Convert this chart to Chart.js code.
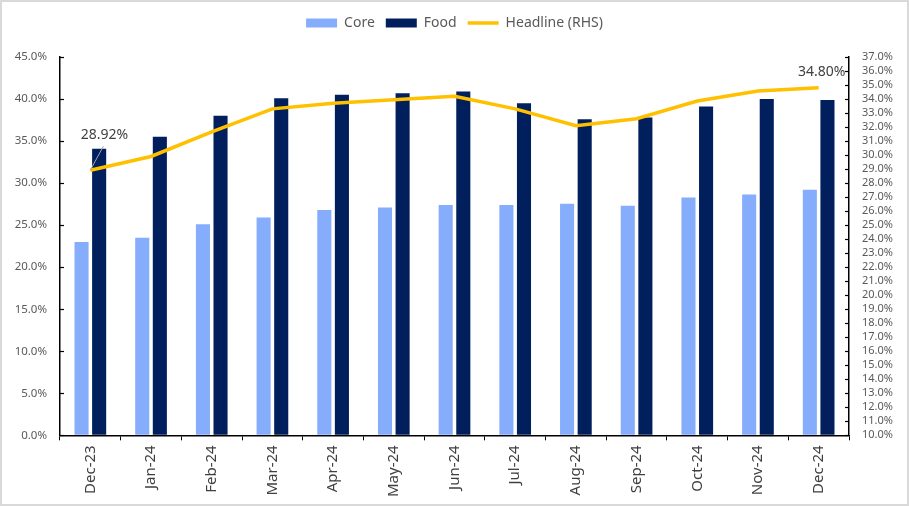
<!DOCTYPE html>
<html>
<head>
<meta charset="utf-8">
<script src="https://cdn.jsdelivr.net/npm/chart.js@4.4.1/dist/chart.umd.min.js"></script>
<style>
  html, body { margin: 0; padding: 0; background: #fff; }
  #wrap { width: 909px; height: 506px; box-sizing: border-box; border: 2px solid #d9d9d9; }
</style>
</head>
<body>
<div id="wrap"><canvas id="inflChart"></canvas></div>
<script>
// data
const months = ['Dec-23', 'Jan-24', 'Feb-24', 'Mar-24', 'Apr-24', 'May-24', 'Jun-24',
                'Jul-24', 'Aug-24', 'Sep-24', 'Oct-24', 'Nov-24', 'Dec-24'];
const coreVals = [23.0, 23.5, 25.1, 25.9, 26.8, 27.1, 27.4, 27.4, 27.55, 27.3, 28.3, 28.65, 29.2];
const foodVals = [34.1, 35.5, 38.0, 40.1, 40.5, 40.7, 40.9, 39.5, 37.6, 37.8, 39.1, 40.0, 39.9];
const headlineVals = [28.92, 29.9, 31.65, 33.3, 33.7, 33.95, 34.2, 33.3, 32.1, 32.6, 33.86, 34.57, 34.80];

const FONT = 'Noto Sans';
const GRAY = '#595959';

// extra room under the legend
const legendGap = {
    id: 'legendGap',
    beforeInit(chart) {
        const fit = chart.legend.fit;
        chart.legend.fit = function () {
            fit.bind(chart.legend)();
            this.height += 17;
        };
    }
};

// y-axis tick marks pointing into the plot (Excel style)
const innerTicks = {
    id: 'innerTicks',
    afterDraw(chart) {
        const ctx = chart.ctx;
        const area = chart.chartArea;
        ctx.save();
        ctx.strokeStyle = '#000';
        ctx.lineWidth = 1.2;
        chart.scales.y.ticks.forEach(t => {
            const py = Math.round(chart.scales.y.getPixelForValue(t.value)) + 0.5;
            ctx.beginPath();
            ctx.moveTo(area.left, py);
            ctx.lineTo(area.left + 4, py);
            ctx.stroke();
        });
        chart.scales.y1.ticks.forEach(t => {
            const py = Math.round(chart.scales.y1.getPixelForValue(t.value)) + 0.5;
            ctx.beginPath();
            ctx.moveTo(area.right - 4, py);
            ctx.lineTo(area.right, py);
            ctx.stroke();
        });
        ctx.restore();
    }
};

// end-point labels for the headline line
const endLabels = {
    id: 'endLabels',
    afterDatasetsDraw(chart) {
        const meta = chart.getDatasetMeta(2);
        const ctx = chart.ctx;
        const first = meta.data[0];
        const last = meta.data[meta.data.length - 1];
        ctx.save();
        ctx.font = '14px ' + FONT;
        ctx.fillStyle = '#404040';
        ctx.textBaseline = 'middle';
        ctx.textAlign = 'center';
        ctx.strokeStyle = '#a6a6a6';
        ctx.lineWidth = 1;
        ctx.beginPath();
        ctx.moveTo(first.x, first.y);
        ctx.lineTo(first.x + 13, first.y - 24);
        ctx.stroke();
        ctx.fillText(headlineVals[0].toFixed(2) + '%', first.x + 14, first.y - 35);
        ctx.fillText(headlineVals[headlineVals.length - 1].toFixed(2) + '%', last.x + 3, last.y - 16);
        ctx.restore();
    }
};

new Chart(document.getElementById('inflChart'), {
    data: {
        labels: months,
        datasets: [
            {
                type: 'bar',
                label: 'Core',
                data: coreVals,
                backgroundColor: '#86adfc',
                yAxisID: 'y',
                categoryPercentage: 0.58,
                barPercentage: 0.8,
                order: 2
            },
            {
                type: 'bar',
                label: 'Food',
                data: foodVals,
                backgroundColor: '#001f5c',
                yAxisID: 'y',
                categoryPercentage: 0.58,
                barPercentage: 0.8,
                order: 2
            },
            {
                type: 'line',
                label: 'Headline (RHS)',
                data: headlineVals,
                borderColor: '#ffc000',
                backgroundColor: '#ffc000',
                borderWidth: 3.5,
                pointRadius: 0,
                tension: 0,
                yAxisID: 'y1',
                order: 1
            }
        ]
    },
    options: {
        responsive: true,
        maintainAspectRatio: false,
        animation: false,
        layout: { padding: { left: 0, right: 0, top: 3, bottom: 2 } },
        plugins: {
            tooltip: { enabled: false },
            legend: {
                position: 'top',
                labels: {
                    usePointStyle: true,
                    pointStyleWidth: 31,
                    boxHeight: 9,
                    padding: 11,
                    color: GRAY,
                    font: { family: FONT, size: 14 },
                    generateLabels(chart) {
                        const items = Chart.defaults.plugins.legend.labels.generateLabels(chart);
                        items.sort((a, b) => a.datasetIndex - b.datasetIndex);
                        items.forEach(it => {
                            if (it.datasetIndex === 2) {
                                it.pointStyle = 'line';
                                it.strokeStyle = '#ffc000';
                                it.lineWidth = 3.5;
                            } else {
                                it.pointStyle = 'rect';
                                it.lineWidth = 0;
                            }
                        });
                        return items;
                    }
                }
            }
        },
        scales: {
            x: {
                grid: { display: true, drawOnChartArea: false, drawTicks: true, tickLength: 5, color: '#000', offset: true },
                border: { color: '#000', width: 1.5 },
                ticks: { color: '#404040', font: { family: FONT, size: 15 }, maxRotation: 90, minRotation: 90, padding: 5 }
            },
            y: {
                position: 'left',
                min: 0, max: 45,
                afterFit: s => { s.width = 58; },
                grid: { drawOnChartArea: false, drawTicks: false },
                border: { color: '#000', width: 1.5 },
                ticks: {
                    stepSize: 5,
                    color: GRAY,
                    padding: 13,
                    font: { family: FONT, size: 11.5 },
                    callback: v => v.toFixed(1) + '%'
                }
            },
            y1: {
                position: 'right',
                min: 10, max: 37,
                afterFit: s => { s.width = 58; },
                grid: { drawOnChartArea: false, drawTicks: false },
                border: { color: '#000', width: 1.5 },
                ticks: {
                    stepSize: 1,
                    autoSkip: false,
                    color: GRAY,
                    padding: 13,
                    font: { family: FONT, size: 11 },
                    callback: v => v.toFixed(1) + '%'
                }
            }
        }
    },
    plugins: [legendGap, innerTicks, endLabels]
});
</script>
</body>
</html>
